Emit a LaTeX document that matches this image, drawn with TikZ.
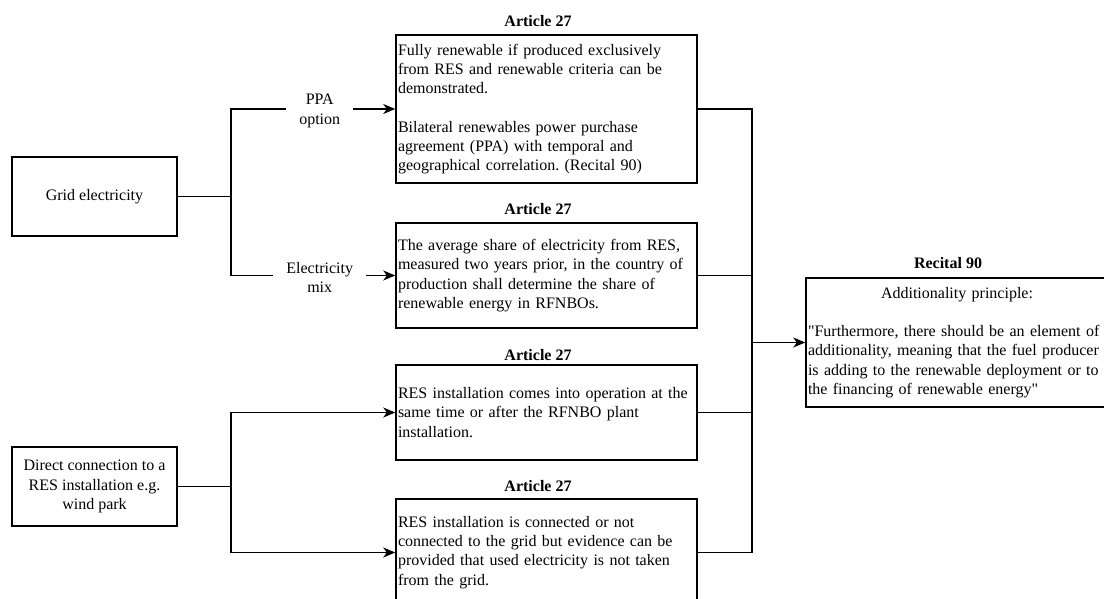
\documentclass[tikz,border=0pt]{standalone}
\usepackage{fontspec}
\setmainfont{Liberation Serif}[Ligatures=TeXOff]
\usetikzlibrary{arrows.meta}
\frenchspacing

\begin{document}
\begin{tikzpicture}[x=1pt,y=-1pt,line width=1.5pt,
  font=\fontsize{16}{19.2}\selectfont,
  srcbox/.style={draw,align=center,minimum width=165pt,minimum height=79pt},
  artbox/.style={draw,text width=297pt,align=left,inner xsep=2pt,inner ysep=0pt},
  heading/.style={font=\fontsize{16}{19.2}\selectfont\bfseries},
  route/.style={fill=white,align=center,inner xsep=13pt,inner ysep=1pt,yshift=-2pt},
  arr/.style={-{Stealth[length=12pt,width=10pt,inset=3.5pt]}}]
\useasboundingbox (0,0) rectangle (1104,599);

\node [srcbox] (grid) at (94.5,196.5) {Grid electricity};
\node [srcbox] (direct) at (94.5,486.5) {Direct connection to a\\RES installation e.g.\\wind park};

\node [artbox,minimum height=148pt] (art1) at (546.5,109) {Fully renewable if produced exclusively\\from RES and renewable criteria can be\\demonstrated.\\[19.2pt]Bilateral renewables power purchase\\agreement (PPA) with temporal and\\geographical correlation. (Recital 90)};
\node [artbox,minimum height=105pt] (art2) at (546.5,275.5) {The average share of electricity from RES,\\measured two years prior, in the country of\\production shall determine the share of\\renewable energy in RFNBOs.};
\node [artbox,minimum height=95pt] (art3) at (546.5,412.5) {RES installation comes into operation at the\\same time or after the RFNBO plant\\installation.};
\node [artbox,minimum height=107pt] (art4) at (546.5,552.5) {RES installation is connected or not\\connected to the grid but evidence can be\\provided that used electricity is not taken\\from the grid.};
\node [artbox,text width=298pt,minimum height=129pt] (recital) at (957,342.5) {\makebox[\linewidth]{Additionality principle:}\\[19.2pt]"Furthermore, there should be an element of\\additionality, meaning that the fuel producer\\is adding to the renewable deployment or to\\the financing of renewable energy"};

\node [heading] (head1) at (538,21) {Article 27};
\node [heading] (head2) at (538,209) {Article 27};
\node [heading] (head3) at (538,355) {Article 27};
\node [heading] (head4) at (538,486) {Article 27};
\node [heading] (headrec) at (948,263) {Recital 90};

\coordinate (gridsplit) at (231,196.5);
\coordinate (directsplit) at (231,486.5);
\coordinate (join) at (752,342.5);

\draw (grid.east) -- (gridsplit);
\draw [arr] (gridsplit) |- node [route,pos=0.77] {PPA\\option} (art1.west);
\draw [arr] (gridsplit) |- node [route,pos=0.77] {Electricity\\mix} (art2.west);
\draw (direct.east) -- (directsplit);
\draw [arr] (directsplit) |- (art3.west);
\draw [arr] (directsplit) |- (art4.west);

\draw (art1.east) -| (join);
\draw (art2.east) -| (join);
\draw (art3.east) -| (join);
\draw (art4.east) -| (join);
\draw [arr] (join) -- (recital.west);
\end{tikzpicture}
\end{document}
